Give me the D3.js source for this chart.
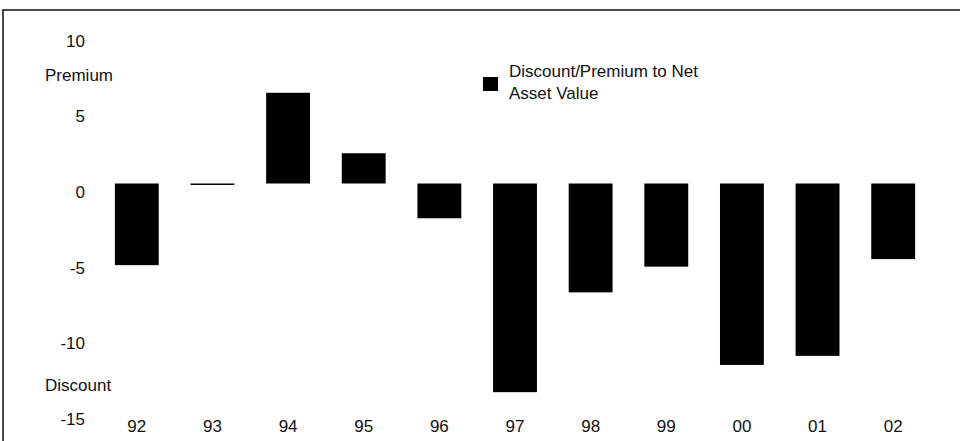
<!DOCTYPE html>
<html>
<head>
<meta charset="utf-8">
<script src="https://cdn.jsdelivr.net/npm/d3@7"></script>
<style>
  html, body { margin: 0; padding: 0; background: #fff; }
  svg { display: block; font-family: "Liberation Sans", Arial, Helvetica, sans-serif; }
</style>
</head>
<body>
<div id="chart"></div>
<script>
// Discount/premium to NAV, by year
const years = ["92", "93", "94", "95", "96", "97", "98", "99", "00", "01", "02"];
const discountPremium = [-5.4, 0, 6.0, 2.0, -2.3, -13.8, -7.2, -5.5, -12.0, -11.4, -5.0];
const yTicks = [10, 5, 0, -5, -10, -15];
const legendLines = ["Discount/Premium to Net", "Asset Value"];

const width = 960, height = 441;

const svg = d3.select("#chart")
    .append("svg")
    .attr("width", width)
    .attr("height", height);

// frame (only top and left edges show in the scan)
svg.append("path")
    .attr("d", "M3,441V10H960")
    .attr("fill", "none")
    .attr("stroke", "#111")
    .attr("stroke-width", 1.5);

const x = d3.scaleBand()
    .domain(years)
    .range([99, 931])
    .paddingInner(0.42)
    .paddingOuter(0.21);

const y = d3.scaleLinear()
    .domain([-15, 10])
    .range([410.3, 32.3]);

// bars
svg.append("g")
    .selectAll("rect")
    .data(years.map((yr, i) => ({ yr, v: discountPremium[i] })))
    .join("rect")
    .attr("x", d => x(d.yr))
    .attr("y", d => Math.min(y(d.v), y(0)))
    .attr("width", x.bandwidth())
    .attr("height", d => Math.max(1.5, Math.abs(y(d.v) - y(0))))
    .attr("fill", "#000");

// y axis: labels sit a bit below their values, as in the original
const yAxis = svg.append("g")
    .attr("transform", "translate(85,8.5)")
    .call(d3.axisLeft(y).tickValues(yTicks).tickSize(0).tickPadding(0).tickFormat(d => String(d)));
yAxis.select(".domain").remove();
yAxis.selectAll("text")
    .attr("font-size", 17)
    .attr("font-family", null)
    .attr("fill", "#111");

// x axis
const xAxis = svg.append("g")
    .attr("transform", "translate(0,426)")
    .call(d3.axisBottom(x).tickSize(0).tickPadding(0));
xAxis.select(".domain").remove();
xAxis.selectAll("text")
    .attr("y", 0)
    .attr("dy", "0.35em")
    .attr("font-size", 17)
    .attr("font-family", null)
    .attr("fill", "#111");

// side labels
svg.append("text")
    .attr("x", 45).attr("y", 75).attr("dy", "0.35em")
    .attr("font-size", 17).attr("fill", "#111")
    .text("Premium");
svg.append("text")
    .attr("x", 45).attr("y", 385).attr("dy", "0.35em")
    .attr("font-size", 17).attr("fill", "#111")
    .text("Discount");

// legend
svg.append("rect")
    .attr("x", 483).attr("y", 77)
    .attr("width", 15).attr("height", 14)
    .attr("fill", "#000");
svg.append("g")
    .selectAll("text")
    .data(legendLines)
    .join("text")
    .attr("x", 509)
    .attr("y", (d, i) => 77 + i * 22)
    .attr("font-size", 17)
    .attr("fill", "#111")
    .text(d => d);
</script>
</body>
</html>
